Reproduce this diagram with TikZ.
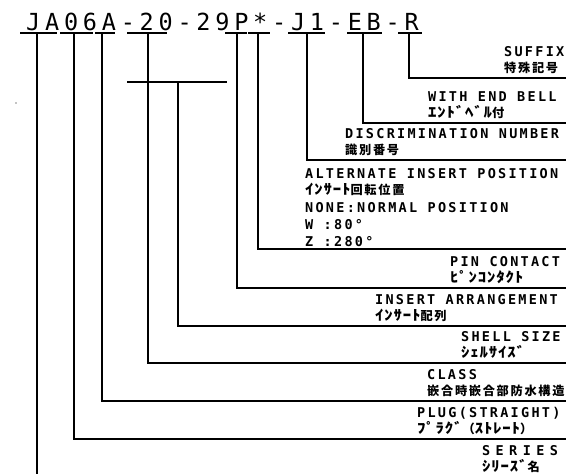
\documentclass[tikz,border=0pt]{standalone}
\usepackage{fontspec}
\newfontfamily\titlefont{DejaVu Sans Mono}[LetterSpace=20.3]
\newfontfamily\labfont{DejaVu Sans Mono}[LetterSpace=16.8]
\newfontfamily\serfont{DejaVu Sans Mono}[LetterSpace=40]
\newfontfamily\jpfont{Noto Sans CJK JP}[LetterSpace=14]
\newfontfamily\kanafont{Noto Sans CJK JP}[FakeStretch=1.2,LetterSpace=6]
\newcommand{\kn}[1]{{\kanafont\fontsize{14}{14}\selectfont #1}}
\begin{document}
\begin{tikzpicture}[x=1pt,y=-1pt,
  ln/.style={line width=1.2pt},
  titlest/.style={anchor=base west,inner sep=0pt,font=\titlefont\fontsize{23.5}{26}\selectfont},
  en/.style={anchor=base west,inner sep=0pt,font=\labfont\bfseries\fontsize{13.5}{14}\selectfont},
  ser/.style={anchor=base west,inner sep=0pt,font=\serfont\bfseries\fontsize{13.5}{14}\selectfont},
  jp/.style={anchor=base west,inner sep=0pt,font=\jpfont\bfseries\fontsize{12.2}{14}\selectfont}]
\useasboundingbox (0,0) rectangle (566,474);
% title
\node[titlest] (title) at (26,30) {JA06A-20-29P*-J1-EB-R};
% underlines
\foreach \a/\b in {20/57,60/93,95/115,127/167,225/247,248/270,288/325,347/382,398/422}
  \draw[ln] (\a,33) -- (\b,33);
% tick tops
\coordinate (tJA) at (37,33);
\coordinate (t06) at (74,33);
\coordinate (tA) at (102,33);
\coordinate (t20) at (148,33);
\coordinate (tbar) at (178,82);
\coordinate (tP) at (237,33);
\coordinate (tS) at (258,33);
\coordinate (tJ1) at (307,33);
\coordinate (tEB) at (363,33);
\coordinate (tR) at (409,33);
% ends
\coordinate (eSER) at (37,474);
\coordinate (e06) at (567,439);
\coordinate (eA) at (567,401);
\coordinate (e20) at (567,363);
\coordinate (ebar) at (567,326);
\coordinate (eP) at (567,288);
\coordinate (eS) at (567,249);
\coordinate (eJ1) at (567,160);
\coordinate (eEB) at (567,123);
\coordinate (eR) at (567,78);
\coordinate (bl) at (127,82);
\coordinate (br) at (227,82);
% connectors
\draw[ln] (tJA) -- (eSER);
\draw[ln] (t06) |- (e06);
\draw[ln] (tA) |- (eA);
\draw[ln] (t20) |- (e20);
\draw[ln] (bl) -- (br);
\draw[ln] (tbar) |- (ebar);
\draw[ln] (tP) |- (eP);
\draw[ln] (tS) |- (eS);
\draw[ln] (tJ1) |- (eJ1);
\draw[ln] (tEB) |- (eEB);
\draw[ln] (tR) |- (eR);
% speck
\fill (16,103) circle (0.7);
% labels
\node[en] (suf) at (504,56.5) {SUFFIX};
\node[jp] (sufj) at (504,72) {特殊記号};
\node[en] (web) at (428,101.5) {WITH END BELL};
\node[jp] (webj) at (428,117) {\kn{ｴﾝﾄﾞﾍﾞﾙ}付};
\node[en] (dis) at (345,138.5) {DISCRIMINATION NUMBER};
\node[jp] (disj) at (345,154) {識別番号};
\node[en] (alt) at (305,178.5) {ALTERNATE INSERT POSITION};
\node[jp] (altj) at (305,194) {\kn{ｲﾝｻｰﾄ}回転位置};
\node[en] (alt2) at (305,212.5) {NONE:NORMAL POSITION};
\node[en] (alt3) at (305,229.5) {W :80°};
\node[en] (alt4) at (305,246.5) {Z :280°};
\node[en] (pin) at (450,266.5) {PIN CONTACT};
\node[jp] (pinj) at (450,282) {\kn{ﾋﾟﾝｺﾝﾀｸﾄ}};
\node[en] (ins) at (375,304.5) {INSERT ARRANGEMENT};
\node[jp] (insj) at (375,320) {\kn{ｲﾝｻｰﾄ}配列};
\node[en] (shl) at (461,341.5) {SHELL SIZE};
\node[jp] (shlj) at (461,357) {\kn{ｼｪﾙｻｲｽﾞ}};
\node[en] (cls) at (427,379.5) {CLASS};
\node[jp] (clsj) at (427,395) {嵌合時嵌合部防水構造};
\node[en] (plg) at (417,417.5) {PLUG(STRAIGHT)};
\node[jp] (plgj) at (417,433) {\kn{ﾌﾟﾗｸﾞ}（\kn{ｽﾄﾚｰﾄ}）};
\node[ser] (ser) at (482,455.5) {SERIES};
\node[jp] (serj) at (482,471) {\kn{ｼﾘｰｽﾞ}名};
\end{tikzpicture}
\end{document}
